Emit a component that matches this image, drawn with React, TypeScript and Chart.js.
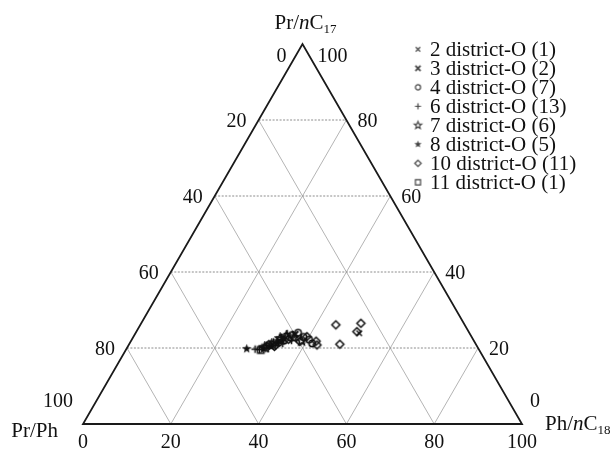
import React, { useEffect, useRef } from "react";
import { Chart, registerables } from "chart.js";

Chart.register(...registerables);

// ---- data ----
const TICKS = [0, 20, 40, 60, 80, 100];
const SERIES_NAMES = [
  "2 district-O (1)",
  "3 district-O (2)",
  "4 district-O (7)",
  "6 district-O (13)",
  "7 district-O (6)",
  "8 district-O (5)",
  "10 district-O (11)",
  "11 district-O (1)",
];
const MARKERS = ["x", "xbold", "circle", "plus", "starOpen", "starFilled", "diamond", "square"];

// [bottom-axis position, right-axis value (Pr/nC17 height)]
const S2 = [[62.9, 23.9]];
const S3 = [[45.5, 22.6], [48.3, 23.6]];
const S4 = [[47.6, 23.4], [50.2, 22.9], [51.5, 22.2], [45.8, 22.0], [49.0, 24.0], [44.6, 21.4], [52.2, 21.2]];
const S6 = [
  [39.2, 19.7], [40.8, 20.2], [41.8, 20.7], [42.6, 21.1], [43.4, 21.6], [44.2, 22.1], [45.2, 22.8],
  [46.5, 23.8], [43.9, 20.6], [42.2, 19.9], [47.5, 22.0], [45.5, 21.2], [40.2, 19.6],
];
const S7 = [[43.0, 21.0], [44.9, 22.5], [46.3, 23.1], [48.0, 22.7], [49.8, 21.9], [41.4, 20.2]];
const S8 = [[37.3, 19.8], [41.2, 19.8], [42.9, 20.4], [44.3, 21.3], [45.3, 21.8]];
const S10 = [
  [57.6, 26.1], [63.3, 26.5], [62.4, 24.3], [58.5, 21.0], [53.1, 21.8], [53.3, 20.8],
  [49.4, 21.7], [51.0, 23.0], [43.6, 20.4], [46.8, 22.3], [42.3, 20.9],
];
const S11 = [[40.5, 19.5]];
const SERIES = [S2, S3, S4, S6, S7, S8, S10, S11];

const FONT = "'Liberation Serif', 'Times New Roman', serif";

function makeMarker(kind: string, color: string, scale: number): HTMLCanvasElement {
  const c = document.createElement("canvas");
  c.width = 13;
  c.height = 13;
  const g = c.getContext("2d")!;
  const cx = 6.5, cy = 6.5;
  const s = scale;
  g.strokeStyle = color;
  g.fillStyle = color;
  g.lineWidth = 1.5 * s;
  g.beginPath();
  if (kind === "x" || kind === "xbold") {
    const r = (kind === "x" ? 2.8 : 3.2) * s;
    g.lineWidth = (kind === "x" ? 1.4 : 2.2) * s;
    g.moveTo(cx - r, cy - r); g.lineTo(cx + r, cy + r);
    g.moveTo(cx + r, cy - r); g.lineTo(cx - r, cy + r);
    g.stroke();
  } else if (kind === "plus") {
    const r = 3.8 * s;
    g.moveTo(cx - r, cy); g.lineTo(cx + r, cy);
    g.moveTo(cx, cy - r); g.lineTo(cx, cy + r);
    g.stroke();
  } else if (kind === "circle") {
    g.arc(cx, cy, 3.2 * s, 0, Math.PI * 2);
    g.stroke();
  } else if (kind === "diamond") {
    const r = 4 * s;
    g.moveTo(cx, cy - r); g.lineTo(cx + r, cy); g.lineTo(cx, cy + r); g.lineTo(cx - r, cy);
    g.closePath();
    g.stroke();
  } else if (kind === "square") {
    const r = 3.2 * s;
    g.rect(cx - r, cy - r, 2 * r, 2 * r);
    g.stroke();
  } else if (kind === "starOpen" || kind === "starFilled") {
    for (let i = 0; i < 10; i++) {
      const r = (i % 2 === 0 ? 4.8 : 2.1) * s;
      const a = -Math.PI / 2 + (i * Math.PI) / 5;
      const px = cx + r * Math.cos(a), py = cy + r * Math.sin(a);
      if (i === 0) g.moveTo(px, py); else g.lineTo(px, py);
    }
    g.closePath();
    if (kind === "starFilled") g.fill(); else g.stroke();
  }
  return c;
}

type Part = { t: string; italic?: boolean; sub?: boolean };

function drawRich(ctx: CanvasRenderingContext2D, parts: Part[], x: number, y: number, size: number, align: "left" | "center" | "right") {
  const fontOf = (p: Part) => `${p.italic ? "italic " : ""}${p.sub ? Math.round(size * 0.62) : size}px ${FONT}`;
  let total = 0;
  for (const p of parts) { ctx.font = fontOf(p); total += ctx.measureText(p.t).width; }
  let cx = align === "left" ? x : align === "center" ? x - total / 2 : x - total;
  ctx.textAlign = "left";
  ctx.textBaseline = "alphabetic";
  for (const p of parts) {
    ctx.font = fontOf(p);
    ctx.fillText(p.t, cx, p.sub ? y + size * 0.18 : y);
    cx += ctx.measureText(p.t).width;
  }
}

export default function App() {
  const ref = useRef<HTMLCanvasElement>(null);
  useEffect(() => {
    const canvas = ref.current!;
    const markerImgs = MARKERS.map((m) => makeMarker(m, "#111", 1));
    const legendImgs = MARKERS.map((m) => makeMarker(m, "#444", 0.8));

    const ternaryPlugin = {
      id: "ternary",
      beforeDatasetsDraw(chart: any) {
        const ctx: CanvasRenderingContext2D = chart.ctx;
        const xs = chart.scales.x, ys = chart.scales.y;
        const P = (x: number, y: number) => [xs.getPixelForValue(x), ys.getPixelForValue(y)];
        const line = (a: number[], b: number[]) => { ctx.beginPath(); ctx.moveTo(a[0], a[1]); ctx.lineTo(b[0], b[1]); ctx.stroke(); };
        const inner = TICKS.slice(1, -1);
        ctx.save();
        ctx.strokeStyle = "#b4b4b4";
        ctx.lineWidth = 1;
        for (const t of inner) {
          line(P(t, 0), P((100 + t) / 2, 100 - t));
          line(P(t, 0), P(t / 2, t));
        }
        ctx.setLineDash([2, 1.5]);
        ctx.strokeStyle = "#8c8c8c";
        for (const t of inner) line(P(t / 2, t), P(100 - t / 2, t));
        ctx.setLineDash([]);
        ctx.strokeStyle = "#1a1a1a";
        ctx.lineWidth = 1.8;
        ctx.beginPath();
        const a = P(0, 0), b = P(100, 0), c = P(50, 100);
        ctx.moveTo(a[0], a[1]); ctx.lineTo(b[0], b[1]); ctx.lineTo(c[0], c[1]); ctx.closePath();
        ctx.stroke();

        // tick labels
        ctx.fillStyle = "#111";
        const size = 20;
        for (const t of TICKS) {
          const L = P(t / 2, t);
          const R = P(100 - t / 2, t);
          if (t === 0) {
            drawRich(ctx, [{ t: String(100 - t) }], L[0] - 10, L[1] - 17, size, "right");
            drawRich(ctx, [{ t: String(t) }], R[0] + 8, R[1] - 17, size, "left");
          } else if (t === 100) {
            drawRich(ctx, [{ t: String(100 - t) }], L[0] - 16, L[1] + 18, size, "right");
            drawRich(ctx, [{ t: String(t) }], R[0] + 15, R[1] + 18, size, "left");
          } else {
            drawRich(ctx, [{ t: String(100 - t) }], L[0] - 12, L[1] + 7, size, "right");
            drawRich(ctx, [{ t: String(t) }], R[0] + 11, R[1] + 7, size, "left");
          }
          const B = P(t, 0);
          drawRich(ctx, [{ t: String(t) }], B[0], B[1] + 24, size, "center");
        }
        // axis titles
        const tsize = 21;
        const top = P(50, 100);
        drawRich(ctx, [{ t: "Pr/" }, { t: "n", italic: true }, { t: "C" }, { t: "17", sub: true }], top[0] + 3, top[1] - 15, tsize, "center");
        const bl = P(0, 0);
        drawRich(ctx, [{ t: "Pr/Ph" }], bl[0] - 25, bl[1] + 13, tsize, "right");
        const br = P(100, 0);
        drawRich(ctx, [{ t: "Ph/" }, { t: "n", italic: true }, { t: "C" }, { t: "18", sub: true }], br[0] + 23, br[1] + 6, tsize, "left");

        // legend
        const lx = 418, ly0 = 49.3, dy = 19;
        SERIES_NAMES.forEach((name, i) => {
          const y = ly0 + i * dy;
          ctx.drawImage(legendImgs[i], lx - 6.5, y - 6.5);
          drawRich(ctx, [{ t: name }], lx + 12, y + 7, tsize, "left");
        });
        ctx.restore();
      },
    };

    const chart = new Chart(canvas, {
      type: "scatter",
      data: {
        datasets: SERIES.map((s, i) => ({
          label: SERIES_NAMES[i],
          data: s.map(([x, y]) => ({ x, y })),
          pointStyle: markerImgs[i] as any,
          pointRadius: 4,
          backgroundColor: "#111",
          borderColor: "#111",
        })),
      },
      options: {
        animation: false,
        responsive: false,
        devicePixelRatio: 1,
        layout: { padding: { left: 83, right: 89, top: 44, bottom: 26 } },
        scales: {
          x: { type: "linear", min: 0, max: 100, display: false },
          y: { type: "linear", min: 0, max: 100, display: false },
        },
        plugins: { legend: { display: false }, tooltip: { enabled: false } },
      },
      plugins: [ternaryPlugin],
    });
    return () => chart.destroy();
  }, []);

  return (
    <div style={{ position: "absolute", left: 0, top: 0, width: 611, height: 450, background: "#fff" }}>
      <canvas ref={ref} width={611} height={450} />
    </div>
  );
}
